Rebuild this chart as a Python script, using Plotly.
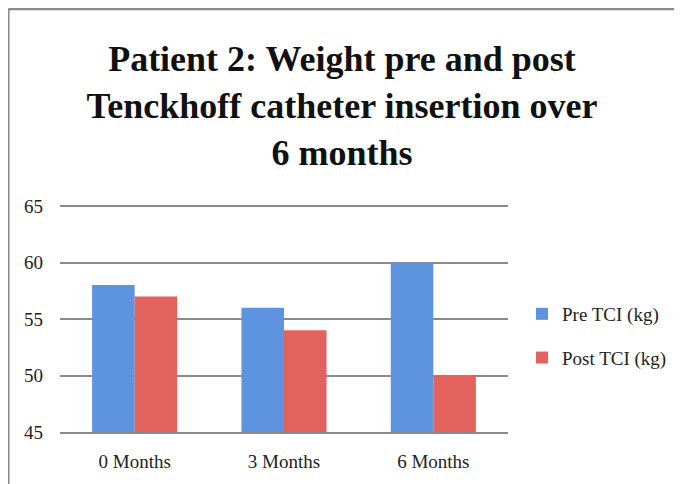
import plotly.graph_objects as go

categories = ["0 Months", "3 Months", "6 Months"]
pre_tci = [58, 56, 60]
post_tci = [57, 54, 50]
series_names = ["Pre TCI (kg)", "Post TCI (kg)"]
y_ticks = [45, 50, 55, 60, 65]

title_text = "Patient 2: Weight pre and post<br>Tenckhoff catheter insertion over<br>6 months"

fig = go.Figure()
fig.add_trace(go.Bar(x=categories, y=pre_tci, name=series_names[0], legendgroup="pre",
                     marker=dict(color="#5E93DF", line=dict(width=0))))
fig.add_trace(go.Bar(x=categories, y=post_tci, name=series_names[1], legendgroup="post",
                     marker=dict(color="#E2625E", line=dict(width=0))))

# page body adds an 8px offset; figure coordinates = screen - 8
W, H = 682, 484
ml, pr, mt, pb = 52, 500, 194, 424
mr, mb = W - pr, H - pb
pw, ph = pr - ml, pb - mt
y_top = 65 + 4 / (226 / 20)   # small headroom so the 65 gridline is drawn

serif = "Liberation Serif, DejaVu Serif, serif"

fig.update_layout(
    width=W, height=H,
    margin=dict(l=ml, r=mr, t=mt, b=mb, pad=0),
    paper_bgcolor="white", plot_bgcolor="white",
    barmode="group", bargap=0.43, bargroupgap=0,
    font=dict(family=serif, color="#222222", size=19),
    title=dict(text=title_text, x=334 / W, xanchor="center", xref="container",
               y=1 - 63 / H, yanchor="top", yref="container",
               font=dict(family=serif, size=36, color="#111111", weight="bold"),
               automargin=False),
    legend=dict(x=(514 - ml) / pw, xanchor="left", y=(pb - 328) / ph, yanchor="middle",
                font=dict(size=19, color="#222222"), bgcolor="rgba(0,0,0,0)",
                tracegroupgap=16, itemwidth=30),
    showlegend=True,
    xaxis=dict(showgrid=False, showline=True, linecolor="#8a8a8a", linewidth=2,
               ticks="", tickfont=dict(size=19), ticklabelstandoff=11),
    yaxis=dict(range=[45, y_top], tickvals=y_ticks, showgrid=True, gridcolor="#8a8a8a",
               gridwidth=1.5, zeroline=False, showline=False, ticks="",
               tickfont=dict(size=19), ticklabelstandoff=16),
)

# outer frame (left and top edges) as in the reference
fx = (0.3 - ml) / pw
fy_top = 1 + (mt - 1) / ph
fy_bot = -mb / ph
fig.add_shape(type="line", xref="paper", yref="paper",
              x0=fx, x1=fx, y0=fy_top, y1=fy_bot,
              line=dict(color="#8a8a8a", width=2.5))
fig.add_shape(type="line", xref="paper", yref="paper",
              x0=fx, x1=1 + mr / pw, y0=fy_top, y1=fy_top,
              line=dict(color="#8a8a8a", width=2.5))

fig.write_html("out.html")
